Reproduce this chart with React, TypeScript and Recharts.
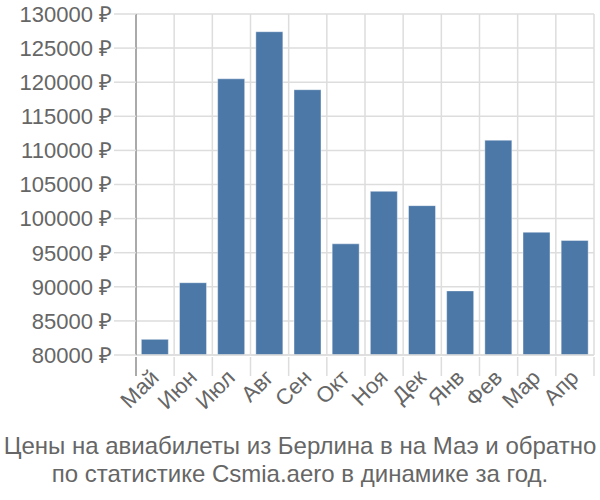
import React from "react";
import { BarChart, Bar, XAxis, YAxis, CartesianGrid } from "recharts";

const months = ["Май", "Июн", "Июл", "Авг", "Сен", "Окт", "Ноя", "Дек", "Янв", "Фев", "Мар", "Апр"];
const prices = [82300, 90600, 120500, 127400, 118900, 96300, 104000, 101900, 89400, 111500, 98000, 96800];
const yTicks = [80000, 85000, 90000, 95000, 100000, 105000, 110000, 115000, 120000, 125000, 130000];
const titleLines = [
  "Цены на авиабилеты из Берлина в на Маэ и обратно",
  "по статистике Csmia.aero в динамике за год.",
];

const data = months.map((m, i) => ({ month: m, price: prices[i] }));

const FONT = "'Liberation Sans', Arial, sans-serif";
const TEXT = "#666666";
const GRID = "#dddddd";
const AXIS = "#aaaaaa";
const BAR = "#4c78a8";

const XTick = (props: any) => {
  const { x, y, payload, index } = props;
  const half = payload && payload.offset ? payload.offset : 0;
  const lines: React.ReactNode[] = [];
  lines.push(
    <line key="l" x1={x - half} x2={x - half} y1={y} y2={y + 19} stroke={index === 0 ? AXIS : GRID} strokeWidth={index === 0 ? 2 : 1.5} />
  );
  if (index === months.length - 1) {
    lines.push(<line key="r" x1={x + half} x2={x + half} y1={y} y2={y + 19} stroke={GRID} strokeWidth={1.5} />);
  }
  const ax = x + 5;
  const ay = y + 22;
  return (
    <g>
      {lines}
      <text
        x={ax}
        y={ay}
        textAnchor="end"
        fill={TEXT}
        fontSize={22}
        fontFamily={FONT}
        transform={`rotate(-45, ${ax}, ${ay})`}
      >
        {payload.value}
      </text>
    </g>
  );
};

export default function App() {
  return (
    <div style={{ position: "absolute", left: 0, top: 0, width: 600, height: 500, background: "#fff", fontFamily: FONT }}>
      <BarChart
        width={600}
        height={430}
        data={data}
        margin={{ top: 14, right: 6, bottom: 0, left: 0 }}
        barCategoryGap="14%"
      >
        <CartesianGrid
          stroke={GRID}
          strokeWidth={1.5}
          verticalCoordinatesGenerator={(p: any) => {
            const off = p.offset;
            return months.map((_, i) => off.left + ((i + 1) * off.width) / months.length);
          }}
        />
        <XAxis
          dataKey="month"
          height={75}
          tickSize={0}
          tickLine={false}
          axisLine={{ stroke: GRID, strokeWidth: 1.5 }}
          interval={0}
          tick={<XTick />}
        />
        <YAxis
          width={136}
          domain={[80000, 130000]}
          ticks={yTicks}
          interval={0}
          tickSize={22}
          tickMargin={2}
          tickLine={{ stroke: GRID, strokeWidth: 1.5 }}
          axisLine={{ stroke: AXIS, strokeWidth: 2 }}
          tickFormatter={(v: number) => `${v} ₽`}
          tick={{ fill: TEXT, fontSize: 22, fontFamily: FONT }}
        />
        <Bar dataKey="price" fill={BAR} stroke="#ffffff" strokeOpacity={0.4} isAnimationActive={false} />
      </BarChart>
      <div style={{ position: "absolute", left: 0, top: 432, width: 600, textAlign: "center", color: TEXT, fontSize: 24, lineHeight: "27.5px", whiteSpace: "nowrap" }}>
        {titleLines.map((t, i) => (
          <div key={i}>{t}</div>
        ))}
      </div>
    </div>
  );
}
